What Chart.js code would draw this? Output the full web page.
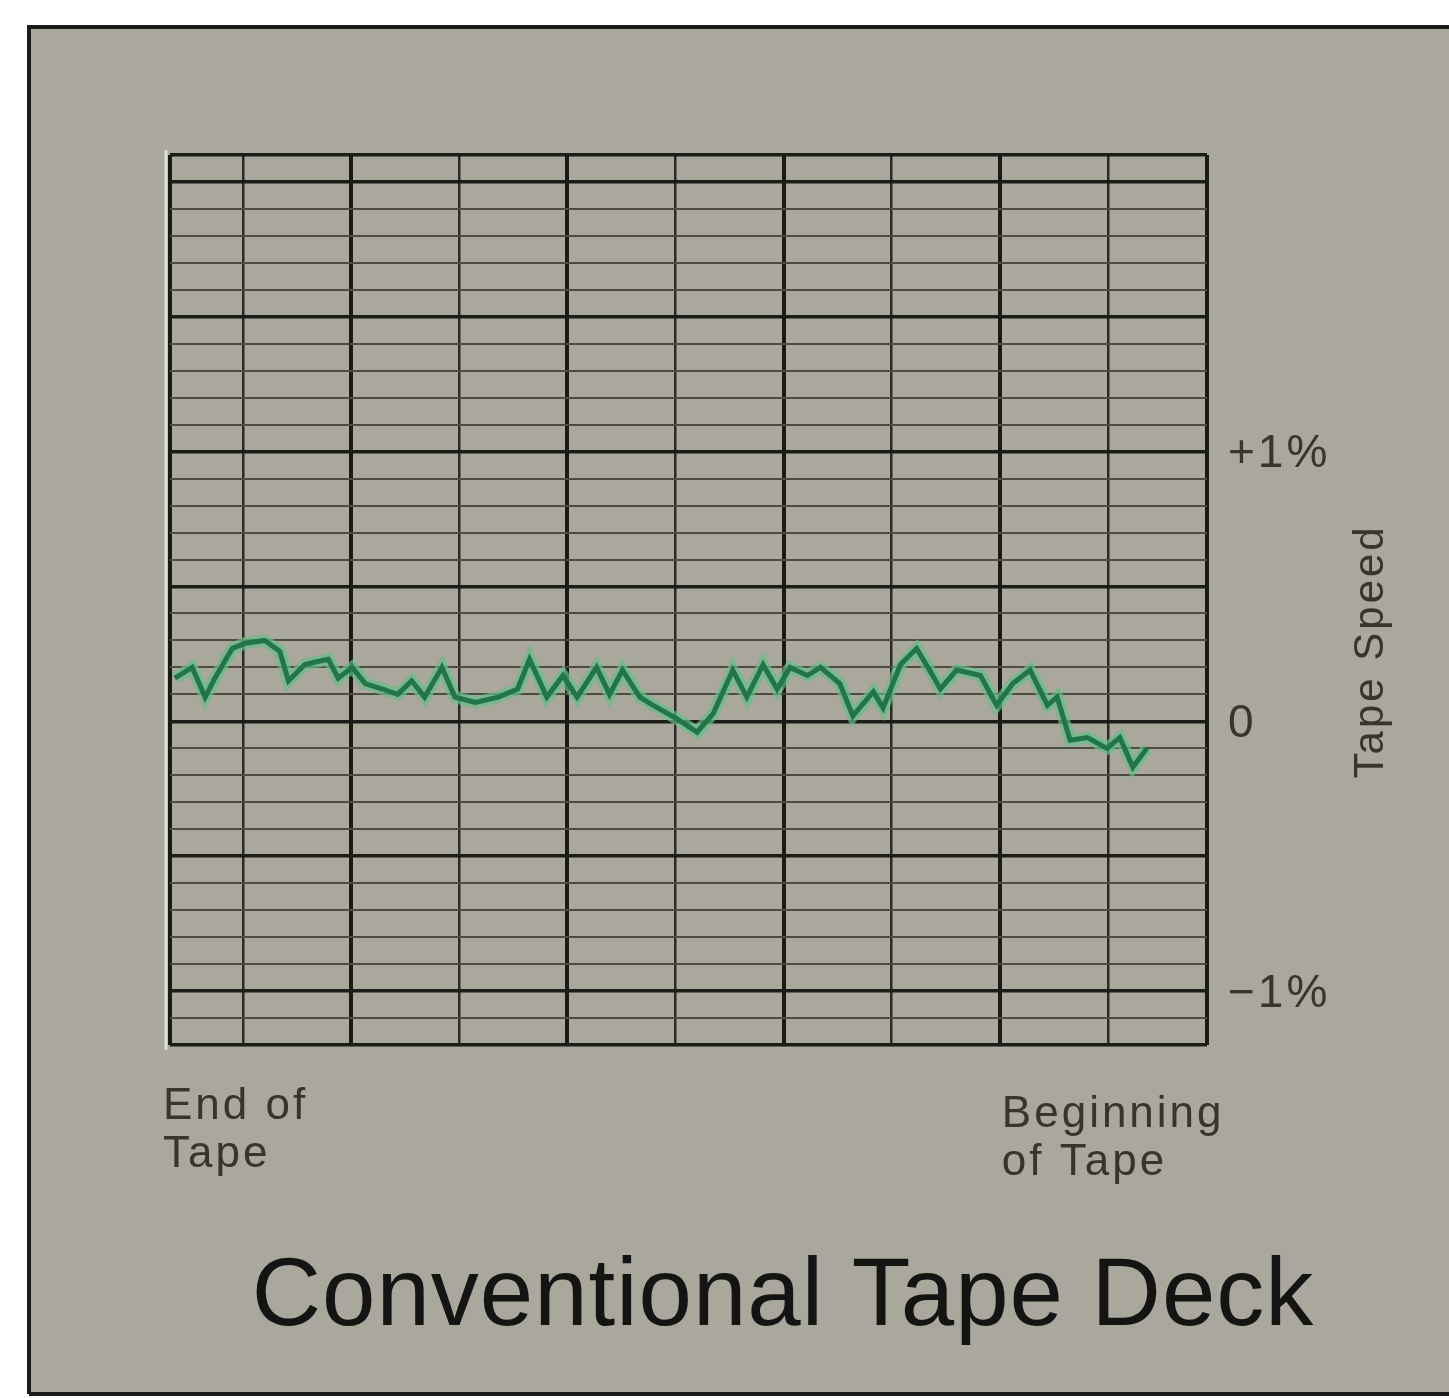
<!DOCTYPE html>
<html>
<head>
<meta charset="utf-8">
<script src="https://cdn.jsdelivr.net/npm/chart.js@4/dist/chart.umd.min.js"></script>
<style>
  html, body { margin: 0; padding: 0; background: #ffffff; }
  canvas { display: block; }
</style>
</head>
<body>
<canvas id="tapeChart" width="1449" height="1398" style="width:1449px;height:1398px"></canvas>
<script>
// position along the tape, in chart-paper divisions (0 = first major line)
const tapePos = [-0.63, -0.47, -0.35, -0.26, -0.10, 0.02, 0.20, 0.34, 0.42, 0.57, 0.67, 0.79, 0.88, 1.01,
  1.13, 1.29, 1.43, 1.56, 1.68, 1.84, 1.96, 2.15, 2.36, 2.54, 2.65, 2.81, 2.96, 3.09, 3.27, 3.39, 3.51,
  3.67, 3.79, 4.01, 4.20, 4.35, 4.53, 4.66, 4.81, 4.94, 5.06, 5.22, 5.34, 5.52, 5.64, 5.83, 5.92, 6.08,
  6.23, 6.35, 6.45, 6.60, 6.82, 6.97, 7.12, 7.28, 7.44, 7.53, 7.65, 7.81, 7.99, 8.11, 8.23, 8.36];
// tape speed deviation, %
const speedDev = [0.16, 0.20, 0.09, 0.16, 0.27, 0.29, 0.30, 0.26, 0.15, 0.21, 0.22, 0.23, 0.16, 0.20,
  0.14, 0.12, 0.10, 0.15, 0.09, 0.20, 0.09, 0.07, 0.09, 0.12, 0.23, 0.09, 0.17, 0.09, 0.20, 0.10, 0.19,
  0.09, 0.06, 0.01, -0.04, 0.03, 0.19, 0.09, 0.21, 0.12, 0.20, 0.17, 0.20, 0.14, 0.02, 0.11, 0.05, 0.21,
  0.27, 0.19, 0.12, 0.19, 0.17, 0.06, 0.14, 0.19, 0.06, 0.09, -0.07, -0.06, -0.10, -0.06, -0.17, -0.10];

const speedTicks = [1, 0, -1];
const speedTickLabels = ['+1%', '0', '\u22121%'];
const endLabel = ['End of', 'Tape'];
const beginLabel = ['Beginning', 'of Tape'];
const axisTitle = 'Tape Speed';
const chartTitle = 'Conventional Tape Deck';

const xMin = -0.675, xMax = 8.916;
const yMin = -1.2, yMax = 2.1;

const trace = tapePos.map((x, i) => ({ x: x, y: speedDev[i] }));

const paper = {
  id: 'paper',
  beforeDraw(chart) {
    const c = chart.ctx;
    c.save();
    c.fillStyle = '#ffffff';
    c.fillRect(0, 0, chart.width, chart.height);
    c.fillStyle = '#aaa89c';
    c.fillRect(28, 25, chart.width - 28, 1368);
    c.strokeStyle = '#1c1c1a';
    c.lineWidth = 4;
    c.beginPath();
    c.moveTo(29, 1394);
    c.lineTo(29, 27);
    c.lineTo(chart.width, 27);
    c.stroke();
    c.beginPath();
    c.moveTo(29, 1394);
    c.lineTo(chart.width, 1394);
    c.stroke();
    // light streak along the left edge of the paper
    c.strokeStyle = 'rgba(235, 235, 225, 0.8)';
    c.lineWidth = 3;
    c.beginPath();
    c.moveTo(166, 150);
    c.lineTo(166, 1050);
    c.stroke();
    c.restore();
  },
  afterDraw(chart) {
    const c = chart.ctx;
    const xs = chart.scales.x, ys = chart.scales.y;
    const area = chart.chartArea;
    c.save();
    c.fillStyle = '#36352f';
    c.textBaseline = 'middle';
    c.textAlign = 'left';
    c.font = '46px "Liberation Sans", Arial, sans-serif';
    c.letterSpacing = '3px';
    speedTicks.forEach((v, i) => {
      c.fillText(speedTickLabels[i], area.right + 21, ys.getPixelForValue(v) + 3);
    });

    c.font = '42px "Liberation Sans", Arial, sans-serif';
    c.textBaseline = 'alphabetic';
    c.save();
    c.translate(area.right + 176, (ys.getPixelForValue(1) + ys.getPixelForValue(-1)) / 2 - 70);
    c.rotate(-Math.PI / 2);
    c.textAlign = 'center';
    c.fillText(axisTitle, 0, 0);
    c.restore();

    c.font = '44px "Liberation Sans", Arial, sans-serif';
    c.letterSpacing = '3px';
    const x0 = xs.getPixelForValue(xMin) - 7;
    endLabel.forEach((t, i) => c.fillText(t, x0, area.bottom + 74 + i * 48));
    const x1 = xs.getPixelForValue(7) + 2;
    beginLabel.forEach((t, i) => c.fillText(t, x1, area.bottom + 82 + i * 48));

    c.fillStyle = '#141412';
    c.letterSpacing = '1px';
    c.font = '96px "Liberation Sans", Arial, sans-serif';
    c.textAlign = 'center';
    c.fillText(chartTitle, 783, 1325);
    c.restore();
  }
};

const isMajorY = v => Math.round(v * 10) % 5 === 0 || v <= yMin || v >= yMax;
const isMajorX = v => v <= xMin || v >= xMax || Math.round(v) % 2 === 1;

new Chart(document.getElementById('tapeChart'), {
  type: 'line',
  data: {
    datasets: [
      {
        label: 'Tape speed',
        data: trace,
        borderColor: '#22744a',
        borderWidth: 5,
        borderJoinStyle: 'miter',
        pointRadius: 0,
        tension: 0,
        order: 0
      },
      {
        label: 'halo',
        data: trace,
        borderColor: 'rgba(100, 190, 135, 0.7)',
        borderWidth: 12,
        pointRadius: 0,
        tension: 0,
        order: 1
      }
    ]
  },
  options: {
    responsive: false,
    animation: false,
    layout: { padding: { left: 170, top: 155, right: 242, bottom: 353 } },
    plugins: { legend: { display: false }, tooltip: { enabled: false }, title: { display: false } },
    scales: {
      x: {
        type: 'linear',
        min: xMin,
        max: xMax,
        afterBuildTicks: axis => {
          axis.ticks = [xMin, 0, 1, 2, 3, 4, 5, 6, 7, 8, xMax].map(v => ({ value: v }));
        },
        ticks: { display: false },
        border: { display: false },
        grid: {
          drawTicks: false,
          color: ctx => isMajorX(ctx.tick.value) ? '#1a1a17' : '#2a2a26',
          lineWidth: ctx => isMajorX(ctx.tick.value) ? 4 : 2.5
        }
      },
      y: {
        type: 'linear',
        min: yMin,
        max: yMax,
        afterBuildTicks: axis => {
          const t = [];
          for (let i = -12; i <= 21; i++) t.push({ value: i / 10 });
          axis.ticks = t;
        },
        ticks: { display: false },
        border: { display: false },
        grid: {
          drawTicks: false,
          color: ctx => isMajorY(ctx.tick.value) ? '#1c1c19' : '#4c4b44',
          lineWidth: ctx => isMajorY(ctx.tick.value) ? 3.5 : 2
        }
      }
    }
  },
  plugins: [paper]
});
</script>
</body>
</html>
